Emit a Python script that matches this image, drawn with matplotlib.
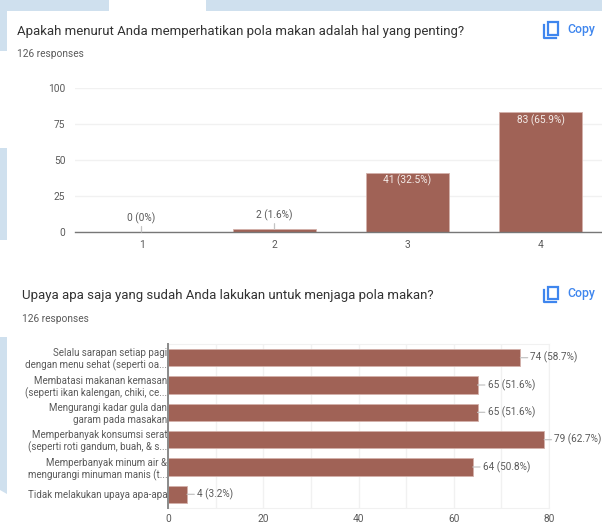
#!/usr/bin/env python3
"""Survey response summary: two bar charts on a form results page."""

import matplotlib
matplotlib.use("Agg")
import matplotlib.pyplot as plt
from matplotlib.patches import Polygon, Rectangle

W, H = 602, 523

# Importance of watching one's diet (scale 1-4)
scale_labels = ["1", "2", "3", "4"]
scale_counts = [0, 2, 41, 83]
scale_text = ["0 (0%)", "2 (1.6%)", "41 (32.5%)", "83 (65.9%)"]

# Efforts already made
effort_labels = [
    "Selalu sarapan setiap pagi\ndengan menu sehat (seperti oa...",
    "Membatasi makanan kemasan\n(seperti ikan kalengan, chiki, ce...",
    "Mengurangi kadar gula dan\ngaram pada masakan",
    "Memperbanyak konsumsi serat\n(seperti roti gandum, buah, & s...",
    "Memperbanyak minum air &\nmengurangi minuman manis (t...",
    "Tidak melakukan upaya apa-apa",
]
effort_counts = [74, 65, 65, 79, 64, 4]
effort_text = ["74 (58.7%)", "65 (51.6%)", "65 (51.6%)", "79 (62.7%)", "64 (50.8%)", "4 (3.2%)"]

BAR = "#a06256"
BAR_EDGE = "#d3b1aa"
BLUE = "#cfe0ee"
GRID = "#f1f1f1"
TICK = "#5a5a5a"
TITLE = "#333333"
LINK = "#3f86ee"
LEAD = "#c4c4c4"

plt.rcParams["font.family"] = ["Roboto", "DejaVu Sans"]

fig = plt.figure(figsize=(W / 100, H / 100), dpi=100)
fig.patch.set_facecolor("white")


def px_axes(x0, y0, x1, y1):
    """Axes placed by pixel box, y measured from the top of the figure."""
    return fig.add_axes([x0 / W, 1 - y1 / H, (x1 - x0) / W, (y1 - y0) / H])


# Full-figure overlay in pixel units for page furniture and text
page = fig.add_axes([0, 0, 1, 1], zorder=-1)
page.set_xlim(0, W)
page.set_ylim(H, 0)
page.axis("off")

for x, y, w, h in [(0, 0, 109, 11), (206, 0, 396, 11), (0, 11, 7, 40), (0, 148, 7, 92)]:
    page.add_patch(Rectangle((x, y), w, h, fc=BLUE, ec="none"))
page.add_patch(Polygon([(0, 337), (7, 337), (7, 494), (0, 490)], fc=BLUE, ec="none"))


def copy_icon(x, y):
    page.add_patch(Rectangle((x + 3.5, y), 10.5, 12.5, fc="none", ec=LINK, lw=1.6))
    page.plot([x, x, x + 12], [y + 3, y + 15.5, y + 15.5], color=LINK, lw=1.6)
    page.text(x + 23, y + 7, "Copy", color=LINK, fontsize=8.8, fontweight="medium", va="center")


page.text(17, 31, "Apakah menurut Anda memperhatikan pola makan adalah hal yang penting?",
          color=TITLE, fontsize=9.57, va="center")
page.text(17, 54, "126 responses", color=TICK, fontsize=7.25, va="center")
copy_icon(544, 22)

page.text(22, 295, "Upaya apa saja yang sudah Anda lakukan untuk menjaga pola makan?",
          color=TITLE, fontsize=9.5, va="center")
page.text(22, 319, "126 responses", color=TICK, fontsize=7.25, va="center")
copy_icon(544, 286.5)

# ── Top chart: vertical bars ─────────────────────────────────────────────
ax1 = px_axes(75, 88, 607, 232)
ax1.patch.set_alpha(0)
xpos = [1, 2, 3, 4]
ax1.bar(xpos, scale_counts, width=0.62, color=BAR, edgecolor=BAR_EDGE, linewidth=0.6, zorder=3)
ax1.set_xlim(0.5, 4.5)
ax1.set_ylim(0, 100)
ax1.set_yticks([0, 25, 50, 75, 100])
ax1.set_xticks(xpos, scale_labels)
ax1.grid(axis="y", color=GRID, linewidth=1, zorder=0)
ax1.tick_params(length=0, labelsize=7.25, labelcolor=TICK)
ax1.tick_params(axis="x", pad=6)
ax1.tick_params(axis="y", pad=7)
for side in ("top", "left", "right"):
    ax1.spines[side].set_visible(False)
ax1.spines["bottom"].set_color("#777777")
ax1.spines["bottom"].set_linewidth(1.0)
ax1.spines["bottom"].set_zorder(4)

for x, v, s in zip(xpos, scale_counts, scale_text):
    if v > 10:
        ax1.annotate(s, (x, v), xytext=(0, -7.5), textcoords="offset pixels", ha="center", va="center",
                     color="#f4ece9", fontsize=7.25, zorder=5)
    else:
        ax1.annotate(s, (x, v), xytext=(0, 14), textcoords="offset pixels", ha="center", va="center",
                     color=TICK, fontsize=7.25, zorder=5,
                     arrowprops=dict(arrowstyle="-", color=LEAD, lw=0.9, shrinkA=0, shrinkB=0))

# ── Bottom chart: horizontal bars ────────────────────────────────────────
ax2 = px_axes(168, 344, 549, 508)
ax2.patch.set_alpha(0)
ypos = list(range(len(effort_counts)))
ax2.barh(ypos, effort_counts, height=0.63, color=BAR, edgecolor=BAR_EDGE, linewidth=0.6, zorder=3)
ax2.set_xlim(0, 80)
ax2.set_ylim(5.5, -0.5)
ax2.set_xticks([0, 20, 40, 60, 80])
ax2.set_xticks([10, 30, 50, 70], minor=True)
ax2.set_yticks(ypos, effort_labels)
ax2.grid(axis="x", which="both", color=GRID, linewidth=1, zorder=0)
ax2.tick_params(which="both", length=0, labelsize=7.05, labelcolor=TICK)
ax2.tick_params(axis="x", labelsize=7.25, pad=4.5)
ax2.tick_params(axis="y", pad=0.5)
for lab in ax2.get_yticklabels():
    lab.set_linespacing(1.2)
for side in ("top", "bottom", "right"):
    ax2.spines[side].set_color(GRID)
ax2.spines["left"].set_color("#8a8a8a")
ax2.spines["left"].set_linewidth(1.4)
ax2.spines["left"].set_zorder(4)

for y, v, s in zip(ypos, effort_counts, effort_text):
    ax2.annotate(s, (v, y), xytext=(10, 0), textcoords="offset pixels", ha="left", va="center",
                 color=TICK, fontsize=7.2, zorder=5, annotation_clip=False,
                 arrowprops=dict(arrowstyle="-", color=LEAD, lw=0.9, shrinkA=0, shrinkB=0))

fig.savefig("out.png", dpi=100)
plt.close(fig)
